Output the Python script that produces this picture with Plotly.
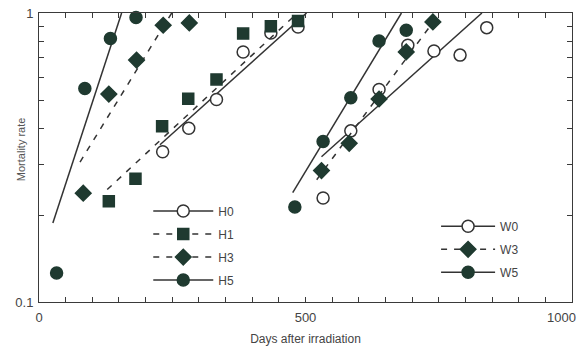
import plotly.graph_objects as go

# ---- data ----
h0_x = [232, 281, 333, 383, 435, 486]
h0_y = [0.331, 0.399, 0.502, 0.733, 0.853, 0.895]
h1_x = [131, 181, 231, 280, 333, 383, 435, 486]
h1_y = [0.223, 0.267, 0.406, 0.505, 0.589, 0.849, 0.90, 0.938]
h3_x = [83, 131, 183, 233, 282]
h3_y = [0.238, 0.524, 0.687, 0.907, 0.924]
h5_x = [33, 86, 134, 182]
h5_y = [0.126, 0.548, 0.816, 0.964]

w0_x = [533, 585, 638, 692, 741, 790, 840]
w0_y = [0.229, 0.391, 0.544, 0.774, 0.739, 0.715, 0.89]
w3_x = [530, 582, 638, 689, 739]
w3_y = [0.285, 0.354, 0.504, 0.733, 0.931]
w5_x = [480, 533, 585, 638, 689]
w5_y = [0.213, 0.359, 0.509, 0.80, 0.872]

# fitted regression lines (end points)
h0_fit_x = [227, 502]
h0_fit_y = [0.35, 1.0]
h1_fit_x = [128, 485]
h1_fit_y = [0.245, 1.0]
h3_fit_x = [77, 249]
h3_fit_y = [0.305, 1.0]
h5_fit_x = [26, 155]
h5_fit_y = [0.1876, 1.0]
w0_fit_x = [530, 831]
w0_fit_y = [0.318, 1.0]
w3_fit_x = [521, 752]
w3_fit_y = [0.265, 1.0]
w5_fit_x = [476, 680]
w5_fit_y = [0.239, 1.0]

x_tick_vals = list(range(0, 1001, 50))
x_tick_text = ["0" if v == 0 else "500" if v == 500 else "" for v in x_tick_vals]
x_last_label = "1000"
y_tick_vals = [0.1, 0.2, 0.3, 0.4, 0.5, 0.6, 0.7, 0.8, 0.9, 1.0]
y_tick_text = ["0.1", "", "", "", "", "", "", "", "", "1"]

# ---- styles ----
FILL = "#1f3a30"
LINE = "#333333"
DASH = "6px,7px"
AX = "#3a3a3a"
FONT = "Liberation Sans, Arial, sans-serif"

series = [
    # name, x, y, fitx, fity, symbol, fill, dash, size, legend
    ("H0", h0_x, h0_y, h0_fit_x, h0_fit_y, "circle", "white", "solid", 12, "legend"),
    ("H1", h1_x, h1_y, h1_fit_x, h1_fit_y, "square", FILL, DASH, 11, "legend"),
    ("H3", h3_x, h3_y, h3_fit_x, h3_fit_y, "diamond", FILL, DASH, 12, "legend"),
    ("H5", h5_x, h5_y, h5_fit_x, h5_fit_y, "circle", FILL, "solid", 12, "legend"),
    ("W0", w0_x, w0_y, w0_fit_x, w0_fit_y, "circle", "white", "solid", 12, "legend2"),
    ("W3", w3_x, w3_y, w3_fit_x, w3_fit_y, "diamond", FILL, DASH, 12, "legend2"),
    ("W5", w5_x, w5_y, w5_fit_x, w5_fit_y, "circle", FILL, "solid", 12, "legend2"),
]

fig = go.Figure()
for name, x, y, fx, fy, sym, fill, dash, size, leg in series:
    mline = dict(color=LINE if fill == "white" else FILL, width=1.5)
    fig.add_trace(go.Scatter(
        x=fx, y=fy, mode="lines", showlegend=False,
        line=dict(color=LINE, width=1.5, dash=dash), cliponaxis=False,
    ))
    fig.add_trace(go.Scatter(
        x=x, y=y, mode="markers", showlegend=False, cliponaxis=False,
        marker=dict(symbol=sym, size=size, color=fill, line=mline),
    ))
    # legend entry
    fig.add_trace(go.Scatter(
        x=[None], y=[None], mode="lines+markers", name=name,
        legend=leg, legendgroup=name,
        line=dict(color=LINE, width=1.5, dash=dash),
        marker=dict(symbol=sym, size=size, color=fill, line=mline),
    ))

axis_common = dict(
    showline=True, linecolor=AX, linewidth=1, mirror="allticks",
    ticks="inside", ticklen=5, tickcolor=AX, tickwidth=1,
    showgrid=False, zeroline=False, automargin=False,
    tickfont=dict(family=FONT, size=13, color="#444"),
)

fig.update_layout(
    width=579, height=346,
    margin=dict(l=39, r=7, t=13, b=44),
    paper_bgcolor="white", plot_bgcolor="white",
    font=dict(family=FONT, color="#444"),
    xaxis=dict(range=[0, 1000], tickmode="array", tickvals=x_tick_vals, ticktext=x_tick_text,
               ticklabelstandoff=3,
               title=dict(text="Days after irradiation", font=dict(size=12, color="#444"), standoff=11),
               **axis_common),
    yaxis=dict(type="log", range=[-1, 0], tickmode="array", tickvals=y_tick_vals, ticktext=y_tick_text,
               ticklabelstandoff=2,
               **axis_common),
    legend=dict(x=0.205, y=0.365, xanchor="left", yanchor="top", bgcolor="rgba(0,0,0,0)",
                font=dict(size=12, color="#444"), itemwidth=60, tracegroupgap=4,
                itemclick=False),
    legend2=dict(x=0.745, y=0.312, xanchor="left", yanchor="top", bgcolor="rgba(0,0,0,0)",
                 font=dict(size=12, color="#444"), itemwidth=54, tracegroupgap=4,
                 itemclick=False),
    annotations=[
        dict(text="Mortality rate", textangle=-90, xref="paper", yref="paper",
             x=-0.035, y=0.53, xanchor="center", yanchor="middle", showarrow=False,
             font=dict(size=11, color="#555")),
        dict(text=x_last_label, xref="x", yref="paper", x=1000, y=0, xanchor="right",
             yanchor="top", xshift=6, yshift=-6, showarrow=False,
             font=dict(family=FONT, size=13, color="#444")),
    ],
)

fig.write_html("out.html", config={"displayModeBar": False},
               post_script="document.body.style.margin='0';")
